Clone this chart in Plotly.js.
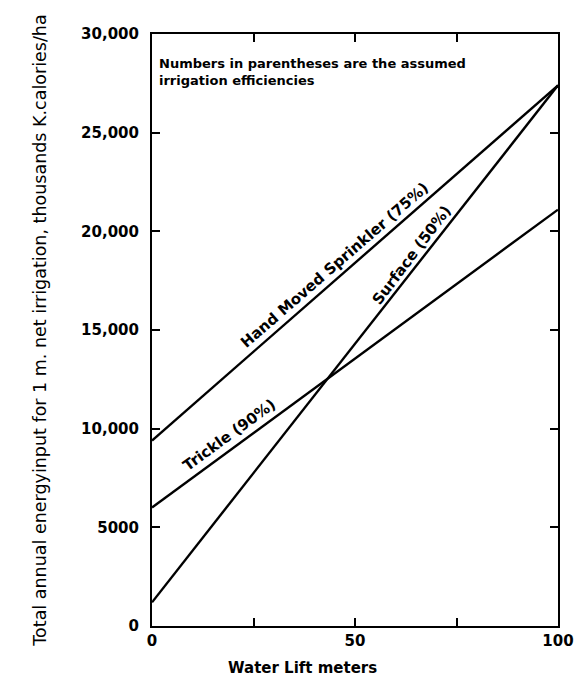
<!DOCTYPE html>
<html>
<head>
<meta charset="utf-8">
<script src="https://cdn.plot.ly/plotly-3.0.1.min.js"></script>
<style>html,body{margin:0;padding:0;background:#fff;}#chart{width:576px;height:691px;}</style>
</head>
<body>
<div id="chart"></div>
<script>
// Data
const waterLift = [0, 100];
const sprinkler = [9400, 27400];   // Hand Moved Sprinkler (75%)
const trickle   = [6000, 21100];   // Trickle (90%)
const surface   = [1200, 27400];   // Surface (50%)

const xTickVals = [0, 25, 50, 75, 100];
const xTickText = ['0', '', '50', '', '100'];
const yTickVals = [0, 5000, 10000, 15000, 20000, 25000, 30000];
const yTickText = ['0', '5000', '10,000', '15,000', '20,000', '25,000', '30,000'];

const FONT = 'DejaVu Sans, Liberation Sans, sans-serif';
const lineStyle = {color: '#000', width: 2.4};

const traces = [
  {x: waterLift, y: sprinkler, mode: 'lines', line: lineStyle, name: 'Hand Moved Sprinkler (75%)', showlegend: false, hoverinfo: 'skip'},
  {x: waterLift, y: trickle, mode: 'lines', line: lineStyle, name: 'Trickle (90%)', showlegend: false, hoverinfo: 'skip'},
  {x: waterLift, y: surface, mode: 'lines', line: lineStyle, name: 'Surface (50%)', showlegend: false, hoverinfo: 'skip'}
];

const layout = {
  width: 576, height: 691,
  margin: {l: 152, r: 18, t: 34, b: 65},
  paper_bgcolor: '#fff', plot_bgcolor: '#fff',
  font: {family: FONT, color: '#000'},
  showlegend: false,
  xaxis: {
    range: [0, 100], tickvals: xTickVals, ticktext: xTickText,
    ticks: 'inside', ticklen: 8, tickwidth: 2, tickcolor: '#000',
    showline: true, linecolor: '#000', linewidth: 2, mirror: 'ticks',
    showgrid: false, zeroline: false,
    tickfont: {family: FONT, size: 15, weight: 'bold', color: '#000'},
    title: {text: ''}
  },
  yaxis: {
    range: [0, 30000], tickvals: yTickVals, ticktext: yTickText,
    ticks: 'inside', ticklen: 8, tickwidth: 2, tickcolor: '#000',
    showline: true, linecolor: '#000', linewidth: 2, mirror: 'ticks',
    showgrid: false, zeroline: false, ticklabelstandoff: 8,
    tickfont: {family: FONT, size: 15, weight: 'bold', color: '#000'},
    title: {text: 'Total annual energyinput for 1 m. net irrigation, thousands K.calories/ha',
            font: {family: FONT, size: 17.5, color: '#000'}, standoff: 30}
  },
  annotations: [
    {xref: 'paper', yref: 'paper', x: 0.37, y: -0.071, xanchor: 'center', yanchor: 'middle',
     text: 'Water Lift meters', showarrow: false, font: {family: FONT, size: 15, weight: 'bold', color: '#000'}},
    {xref: 'x', yref: 'y', x: 1.2, y: 29000, xanchor: 'left', yanchor: 'top', align: 'left',
     text: 'Numbers in parentheses are the assumed<br>irrigation efficiencies', showarrow: false,
     font: {family: FONT, size: 13, weight: 'bold', color: '#000'}},
    {xref: 'x', yref: 'y', x: 45, y: 18300, text: 'Hand Moved Sprinkler (75%)', showarrow: false,
     textangle: -41, font: {family: FONT, size: 15, weight: 'bold', color: '#000'}},
    {xref: 'x', yref: 'y', x: 19, y: 9700, text: 'Trickle (90%)', showarrow: false,
     textangle: -36, font: {family: FONT, size: 15, weight: 'bold', color: '#000'}},
    {xref: 'x', yref: 'y', x: 64, y: 18800, text: 'Surface (50%)', showarrow: false,
     textangle: -53, font: {family: FONT, size: 15, weight: 'bold', color: '#000'}}
  ]
};

Plotly.newPlot('chart', traces, layout, {staticPlot: true, displayModeBar: false});
</script>
</body>
</html>
